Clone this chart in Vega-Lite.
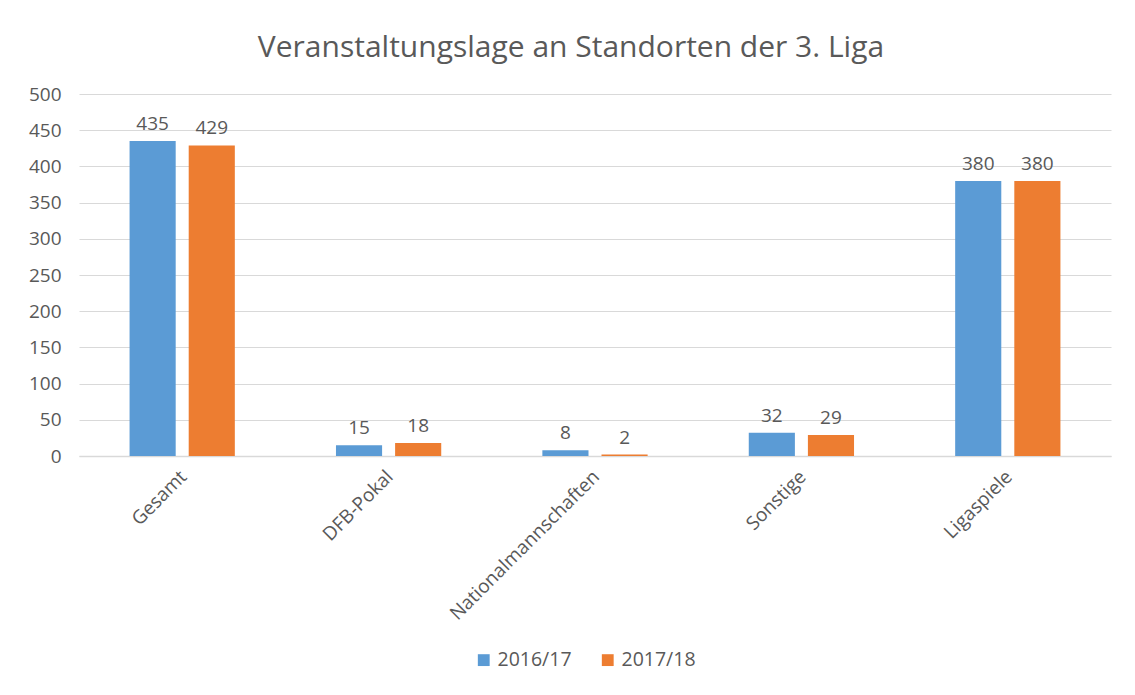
{
  "$schema": "https://vega.github.io/schema/vega-lite/v6.json",
  "width": 1032,
  "height": 362,
  "autosize": "none",
  "padding": {"left": 79, "top": 94, "right": 24, "bottom": 239},
  "background": "white",
  "title": {
    "text": "Veranstaltungslage an Standorten der 3. Liga",
    "fontSize": 30,
    "font": "Open Sans",
    "fontWeight": "normal",
    "color": "#595959",
    "offset": 22,
    "dx": -24
  },
  "data": {
    "values": [
      {"category": "Gesamt", "season": "2016/17", "value": 435},
      {"category": "Gesamt", "season": "2017/18", "value": 429},
      {"category": "DFB-Pokal", "season": "2016/17", "value": 15},
      {"category": "DFB-Pokal", "season": "2017/18", "value": 18},
      {"category": "Nationalmannschaften", "season": "2016/17", "value": 8},
      {"category": "Nationalmannschaften", "season": "2017/18", "value": 2},
      {"category": "Sonstige", "season": "2016/17", "value": 32},
      {"category": "Sonstige", "season": "2017/18", "value": 29},
      {"category": "Ligaspiele", "season": "2016/17", "value": 380},
      {"category": "Ligaspiele", "season": "2017/18", "value": 380}
    ]
  },
  "encoding": {
    "x": {
      "field": "category",
      "type": "nominal",
      "sort": null,
      "scale": {"paddingInner": 0.49, "paddingOuter": 0.245},
      "axis": {
        "title": null,
        "labelAngle": -45,
        "labelFontSize": 19,
        "labelFont": "Open Sans",
        "labelColor": "#595959",
        "labelPadding": 11,
        "labelOffset": -5,
        "labelLimit": 400,
        "ticks": false,
        "domainColor": "#D9D9D9",
        "domainWidth": 1.5
      }
    },
    "xOffset": {
      "field": "season",
      "type": "nominal",
      "scale": {"paddingInner": 0.22}
    },
    "y": {
      "field": "value",
      "type": "quantitative",
      "scale": {"domain": [0, 500], "nice": false},
      "axis": {
        "title": null,
        "values": [0, 50, 100, 150, 200, 250, 300, 350, 400, 450, 500],
        "labelFontSize": 19,
        "labelFont": "Open Sans",
        "labelColor": "#595959",
        "labelPadding": 18,
        "ticks": false,
        "domain": false,
        "gridColor": "#D9D9D9",
        "gridWidth": 1.2
      }
    }
  },
  "layer": [
    {
      "mark": {"type": "bar"},
      "encoding": {
        "color": {
          "field": "season",
          "type": "nominal",
          "scale": {"domain": ["2016/17", "2017/18"], "range": ["#5B9BD5", "#ED7D31"]},
          "legend": {
            "title": null,
            "orient": "none",
            "legendX": 395,
            "legendY": 556,
            "direction": "horizontal",
            "symbolType": "square",
            "symbolSize": 140,
            "symbolStrokeWidth": 0,
            "labelFontSize": 19.5,
            "labelFont": "Open Sans",
            "labelColor": "#595959",
            "labelOffset": 4,
            "columnPadding": 26
          }
        }
      }
    },
    {
      "mark": {"type": "text", "baseline": "bottom", "dy": -7, "fontSize": 19, "font": "Open Sans", "color": "#595959"},
      "encoding": {
        "text": {"field": "value", "type": "quantitative"}
      }
    }
  ],
  "config": {
    "view": {"stroke": null}
  }
}
